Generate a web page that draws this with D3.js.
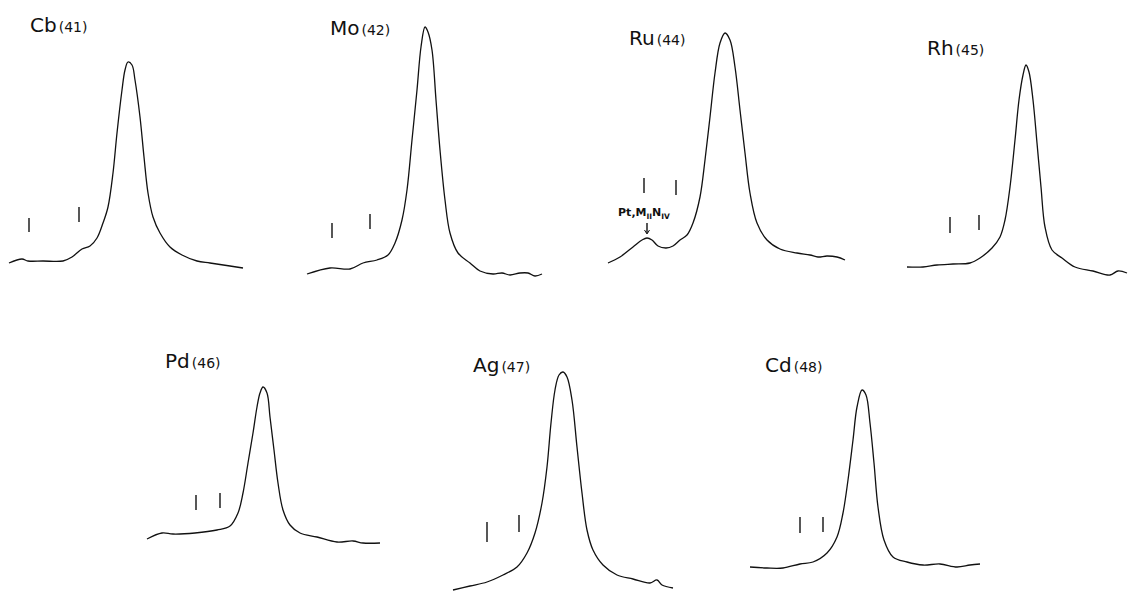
<!DOCTYPE html>
<html>
<head>
<meta charset="utf-8">
<script src="https://cdn.jsdelivr.net/npm/d3@7"></script>
<style>
  body { margin: 0; background: #fff; }
  .trace { fill: none; stroke: #111; stroke-width: 1.3; }
  .marker { stroke: #111; stroke-width: 1.4; }
  .sym { font-family: "DejaVu Sans", sans-serif; fill: #111; }
</style>
</head>
<body>
<div id="chart"></div>
<script>
// element symbols and atomic numbers
const symbols = ["Cb", "Mo", "Ru", "Rh", "Pd", "Ag", "Cd"];
const atomicNumbers = [41, 42, 44, 45, 46, 47, 48];

// traces: channel (x) and counts above floor (y)
const cbChannels = [0, 13, 19, 34, 54, 63, 73, 81, 88, 94, 99, 104, 108, 113, 116, 119, 123, 126, 131, 135, 139, 144, 151, 161, 173, 188, 201, 221, 234];
const cbCounts   = [17, 21, 19, 19, 19, 23, 31, 34, 42, 57, 73, 107, 147, 190, 210, 218, 215, 200, 163, 123, 87, 63, 47, 33, 25, 19, 17, 14, 12];

const moChannels = [0, 23, 43, 56, 70, 81, 88, 95, 100, 105, 110, 114, 118, 121, 125, 129, 133, 138, 143, 151, 163, 173, 186, 195, 203, 213, 221, 228, 235];
const moCounts   = [6, 12, 11, 17, 20, 25, 37, 60, 90, 140, 190, 233, 253, 248, 230, 180, 130, 80, 47, 27, 17, 9, 6, 7, 5, 7, 7, 4, 6];

const ruChannels = [0, 12, 25, 34, 39, 44, 50, 58, 65, 72, 79, 85, 92, 97, 102, 107, 112, 117, 122, 127, 132, 137, 142, 149, 159, 172, 189, 202, 210, 219, 229, 237];
const ruCounts   = [17, 23, 33, 40, 42, 40, 34, 32, 34, 40, 45, 57, 83, 120, 163, 207, 237, 247, 240, 213, 170, 127, 87, 57, 40, 31, 27, 25, 23, 24, 23, 20];

const rhChannels = [0, 16, 30, 46, 63, 73, 85, 93, 98, 103, 108, 112, 116, 119, 122, 126, 130, 134, 138, 145, 155, 168, 186, 203, 211, 220];
const rhCounts   = [13, 13, 15, 16, 17, 22, 32, 43, 60, 93, 140, 180, 205, 215, 208, 180, 137, 93, 53, 30, 22, 13, 9, 5, 9, 7];

const pdChannels = [0, 15, 26, 48, 70, 83, 91, 96, 101, 106, 110, 113, 116, 120, 123, 127, 131, 136, 143, 153, 170, 190, 206, 216, 233];
const pdCounts   = [61, 67, 66, 67, 70, 74, 87, 107, 137, 167, 193, 207, 213, 207, 183, 150, 117, 90, 75, 67, 63, 58, 59, 57, 57];

const agChannels = [0, 17, 34, 50, 64, 74, 82, 89, 94, 98, 102, 106, 110, 114, 119, 124, 129, 134, 140, 150, 164, 180, 197, 204, 209, 220];
const agCounts   = [10, 14, 18, 25, 33, 47, 67, 97, 133, 177, 210, 225, 228, 223, 200, 153, 107, 70, 50, 35, 25, 21, 17, 20, 15, 12];

const cdChannels = [0, 17, 33, 50, 63, 77, 87, 93, 98, 103, 107, 112, 116, 120, 124, 128, 134, 143, 157, 173, 190, 207, 220, 230];
const cdCounts   = [33, 32, 32, 36, 38, 47, 63, 87, 120, 160, 193, 210, 205, 177, 137, 93, 60, 43, 38, 35, 36, 33, 35, 36];

// reference line markers: [channel, low count, high count]
const cbMarkers = [[20, 48, 62], [70, 58, 73]];
const moMarkers = [[25, 42, 57], [63, 51, 66]];
const ruMarkers = [[36, 87, 102], [68, 85, 100]];
const rhMarkers = [[43, 47, 63], [72, 50, 65]];
const pdMarkers = [[49, 90, 105], [73, 92, 107]];
const agMarkers = [[34, 58, 78], [66, 68, 85]];
const cdMarkers = [[50, 67, 83], [73, 68, 83]];

const channelsList = [cbChannels, moChannels, ruChannels, rhChannels, pdChannels, agChannels, cdChannels];
const countsList = [cbCounts, moCounts, ruCounts, rhCounts, pdCounts, agCounts, cdCounts];
const markersList = [cbMarkers, moMarkers, ruMarkers, rhMarkers, pdMarkers, agMarkers, cdMarkers];

// panel placement on the page
const panels = [
  { left: 9,   floor: 280, labelX: 30,  labelY: 32 },
  { left: 307, floor: 280, labelX: 330, labelY: 35 },
  { left: 608, floor: 280, labelX: 629, labelY: 45 },
  { left: 907, floor: 280, labelX: 927, labelY: 55 },
  { left: 147, floor: 600, labelX: 165, labelY: 368 },
  { left: 453, floor: 600, labelX: 473, labelY: 372 },
  { left: 750, floor: 600, labelX: 765, labelY: 372 }
];

const width = 1128, height = 591;

const svg = d3.select('#chart')
  .append('svg')
  .attr('width', width)
  .attr('height', height);

panels.forEach((p, i) => {
  const x = d3.scaleLinear().domain([0, 240]).range([p.left, p.left + 240]);
  const y = d3.scaleLinear().domain([0, 280]).range([p.floor, p.floor - 280]);

  const pts = channelsList[i].map((c, k) => [c, countsList[i][k]]);
  const line = d3.line()
    .x(d => x(d[0]))
    .y(d => y(d[1]))
    .curve(d3.curveCatmullRom.alpha(0.5));

  const g = svg.append('g').attr('class', 'panel');

  g.append('path')
    .attr('class', 'trace')
    .attr('d', line(pts));

  g.selectAll('.marker')
    .data(markersList[i])
    .enter().append('line')
    .attr('class', 'marker')
    .attr('x1', d => x(d[0]))
    .attr('x2', d => x(d[0]))
    .attr('y1', d => y(d[1]))
    .attr('y2', d => y(d[2]));

  // element label, e.g. Cb(41)
  const label = g.append('text')
    .attr('class', 'sym')
    .attr('x', p.labelX)
    .attr('y', p.labelY);
  label.append('tspan').attr('font-size', 20).text(symbols[i]);
  label.append('tspan').attr('font-size', 14).attr('dx', 2).text('(' + atomicNumbers[i] + ')');

  // Pt contamination line on the Ru trace
  if (symbols[i] === 'Ru') {
    const note = g.append('text')
      .attr('x', x(36))
      .attr('y', y(64))
      .attr('text-anchor', 'middle')
      .attr('font-family', 'DejaVu Sans, sans-serif')
      .attr('font-weight', 'bold')
      .attr('font-size', 11)
      .attr('fill', '#111');
    note.append('tspan').text('Pt,M');
    note.append('tspan').attr('font-size', 7.5).attr('dy', 3).text('II');
    note.append('tspan').attr('dy', -3).text('N');
    note.append('tspan').attr('font-size', 7.5).attr('dy', 3).text('IV');

    g.append('line')
      .attr('class', 'marker')
      .attr('stroke-width', 1)
      .attr('x1', x(39)).attr('x2', x(39))
      .attr('y1', y(57)).attr('y2', y(47));
    g.append('path')
      .attr('d', `M${x(39) - 2.5},${y(50)} L${x(39)},${y(46)} L${x(39) + 2.5},${y(50)}`)
      .attr('fill', 'none')
      .attr('stroke', '#111')
      .attr('stroke-width', 1);
  }
});
</script>
</body>
</html>
